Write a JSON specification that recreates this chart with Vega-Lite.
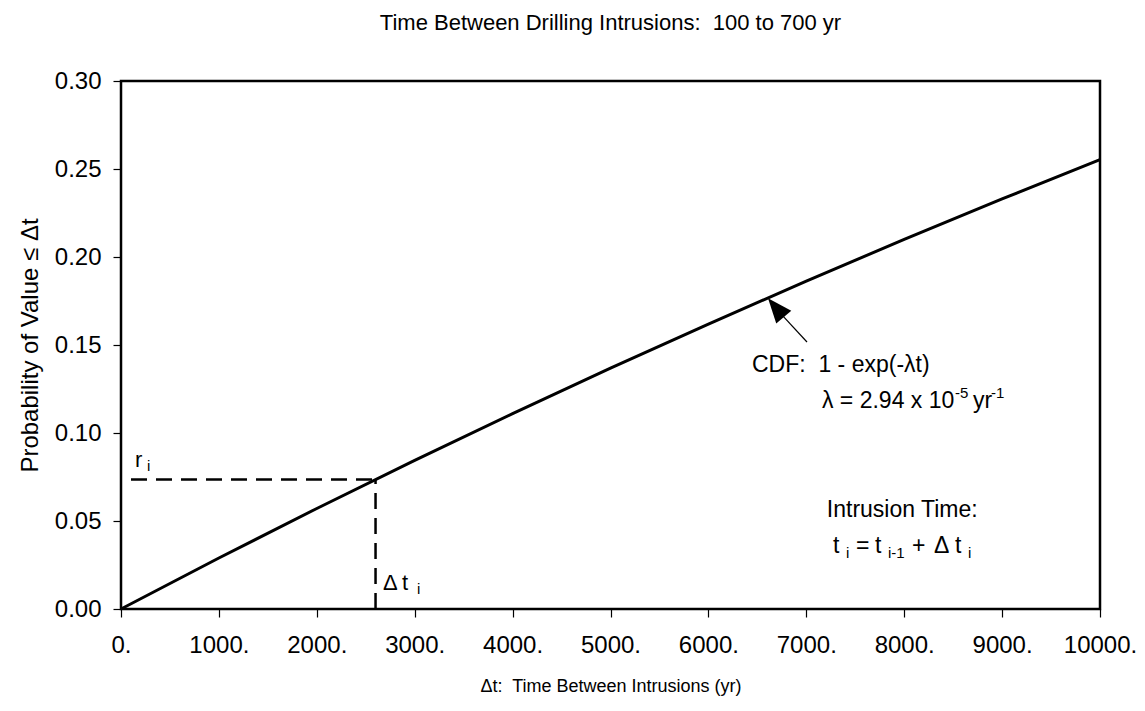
{
  "$schema": "https://vega.github.io/schema/vega-lite/v6.json",
  "width": 979,
  "height": 528,
  "autosize": {"type": "none"},
  "padding": {"left": 121, "top": 81, "right": 45, "bottom": 102},
  "background": "white",
  "config": {
    "font": "Liberation Sans",
    "view": {"stroke": "black", "strokeWidth": 2.5},
    "text": {"font": "Liberation Sans", "color": "black", "fontSize": 23, "align": "left", "baseline": "alphabetic"}
  },
  "title": {
    "text": "Time Between Drilling Intrusions:\u00a0 100 to 700 yr",
    "font": "Liberation Sans",
    "fontSize": 22,
    "fontWeight": "normal",
    "color": "black",
    "anchor": "middle",
    "offset": 34
  },
  "layer": [
    {
      "data": {"values": [
        {"t": 0, "p": 0},
        {"t": 1000, "p": 0.0290},
        {"t": 2000, "p": 0.0571},
        {"t": 3000, "p": 0.0845},
        {"t": 4000, "p": 0.1110},
        {"t": 5000, "p": 0.1368},
        {"t": 6000, "p": 0.1619},
        {"t": 7000, "p": 0.1863},
        {"t": 8000, "p": 0.2100},
        {"t": 9000, "p": 0.2330},
        {"t": 10000, "p": 0.2553}
      ]},
      "mark": {"type": "line", "color": "black", "strokeWidth": 3},
      "encoding": {
        "x": {
          "field": "t", "type": "quantitative",
          "scale": {"domain": [0, 10000], "nice": false, "zero": false},
          "axis": {
            "title": "Δt:\u00a0 Time Between Intrusions (yr)",
            "values": [0, 1000, 2000, 3000, 4000, 5000, 6000, 7000, 8000, 9000, 10000],
            "labelExpr": "datum.value + '.'",
            "domain": false, "grid": false,
            "ticks": true, "tickSize": 8, "tickColor": "black", "tickWidth": 1.2,
            "labelFont": "Liberation Sans", "labelFontSize": 24, "labelColor": "black",
            "labelPadding": 16, "labelFlush": false, "labelOverlap": false,
            "titleFont": "Liberation Sans", "titleFontSize": 18, "titleFontWeight": "normal", "titleColor": "black",
            "titlePadding": 20
          }
        },
        "y": {
          "field": "p", "type": "quantitative",
          "scale": {"domain": [0, 0.3], "nice": false, "zero": false},
          "axis": {
            "title": "Probability of Value ≤ Δt",
            "values": [0, 0.05, 0.1, 0.15, 0.2, 0.25, 0.3],
            "format": ".2f",
            "domain": false, "grid": false,
            "ticks": true, "tickSize": 8, "tickColor": "black", "tickWidth": 1.2,
            "labelFont": "Liberation Sans", "labelFontSize": 24, "labelColor": "black",
            "labelPadding": 12, "labelFlush": false, "labelOverlap": false,
            "titleFont": "Liberation Sans", "titleFontSize": 24, "titleFontWeight": "normal", "titleColor": "black",
            "titlePadding": 12
          }
        }
      }
    },
    {
      "data": {"values": [{}]},
      "mark": {"type": "rule", "color": "black", "strokeWidth": 2.5, "strokeDash": [16, 9], "strokeDashOffset": -10},
      "encoding": {
        "x": {"datum": 0, "type": "quantitative"},
        "x2": {"datum": 2600},
        "y": {"datum": 0.0736, "type": "quantitative"}
      }
    },
    {
      "data": {"values": [{}]},
      "mark": {"type": "rule", "color": "black", "strokeWidth": 2.5, "strokeDash": [16, 9]},
      "encoding": {
        "x": {"datum": 2600, "type": "quantitative"},
        "y": {"datum": 0, "type": "quantitative"},
        "y2": {"datum": 0.0736}
      }
    },
    {
      "data": {"values": [{}]},
      "mark": {"type": "rule", "color": "black", "strokeWidth": 1.2},
      "encoding": {
        "x": {"datum": 7007, "type": "quantitative"},
        "y": {"datum": 0.1517, "type": "quantitative"},
        "x2": {"datum": 6760},
        "y2": {"datum": 0.1665}
      }
    },
    {
      "data": {"values": [{}]},
      "mark": {"type": "point", "shape": "M0,0L0.8,2L-0.8,2Z", "size": 600, "angle": 320, "filled": true, "color": "black", "opacity": 1, "strokeWidth": 0},
      "encoding": {
        "x": {"datum": 6609, "type": "quantitative"},
        "y": {"datum": 0.1765, "type": "quantitative"}
      }
    },
    {
      "data": {"values": [{}]},
      "mark": {"type": "text", "text": "CDF:\u00a0 1 - exp(-λt)"},
      "encoding": {"x": {"datum": 6445, "type": "quantitative"}, "y": {"datum": 0.1347, "type": "quantitative"}}
    },
    {
      "data": {"values": [{}]},
      "mark": {"type": "text", "text": "λ = 2.94 x 10"},
      "encoding": {"x": {"datum": 7160, "type": "quantitative"}, "y": {"datum": 0.1142, "type": "quantitative"}}
    },
    {
      "data": {"values": [{}]},
      "mark": {"type": "text", "text": "-5", "fontSize": 15, "dx": 133, "dy": -10},
      "encoding": {"x": {"datum": 7160, "type": "quantitative"}, "y": {"datum": 0.1142, "type": "quantitative"}}
    },
    {
      "data": {"values": [{}]},
      "mark": {"type": "text", "text": "yr", "dx": 151},
      "encoding": {"x": {"datum": 7160, "type": "quantitative"}, "y": {"datum": 0.1142, "type": "quantitative"}}
    },
    {
      "data": {"values": [{}]},
      "mark": {"type": "text", "text": "-1", "fontSize": 15, "dx": 169, "dy": -10},
      "encoding": {"x": {"datum": 7160, "type": "quantitative"}, "y": {"datum": 0.1142, "type": "quantitative"}}
    },
    {
      "data": {"values": [{}]},
      "mark": {"type": "text", "text": "Intrusion Time:", "align": "center"},
      "encoding": {"x": {"datum": 7980, "type": "quantitative"}, "y": {"datum": 0.0523, "type": "quantitative"}}
    },
    {
      "data": {"values": [{}]},
      "mark": {"type": "text", "text": "t"},
      "encoding": {"x": {"datum": 7273, "type": "quantitative"}, "y": {"datum": 0.0318, "type": "quantitative"}}
    },
    {
      "data": {"values": [{}]},
      "mark": {"type": "text", "text": "i", "fontSize": 15, "dx": 13, "dy": 5},
      "encoding": {"x": {"datum": 7273, "type": "quantitative"}, "y": {"datum": 0.0318, "type": "quantitative"}}
    },
    {
      "data": {"values": [{}]},
      "mark": {"type": "text", "text": "=", "dx": 23},
      "encoding": {"x": {"datum": 7273, "type": "quantitative"}, "y": {"datum": 0.0318, "type": "quantitative"}}
    },
    {
      "data": {"values": [{}]},
      "mark": {"type": "text", "text": "t", "dx": 42},
      "encoding": {"x": {"datum": 7273, "type": "quantitative"}, "y": {"datum": 0.0318, "type": "quantitative"}}
    },
    {
      "data": {"values": [{}]},
      "mark": {"type": "text", "text": "i-1", "fontSize": 15, "dx": 55, "dy": 5},
      "encoding": {"x": {"datum": 7273, "type": "quantitative"}, "y": {"datum": 0.0318, "type": "quantitative"}}
    },
    {
      "data": {"values": [{}]},
      "mark": {"type": "text", "text": "+", "dx": 79},
      "encoding": {"x": {"datum": 7273, "type": "quantitative"}, "y": {"datum": 0.0318, "type": "quantitative"}}
    },
    {
      "data": {"values": [{}]},
      "mark": {"type": "text", "text": "Δ", "dx": 101},
      "encoding": {"x": {"datum": 7273, "type": "quantitative"}, "y": {"datum": 0.0318, "type": "quantitative"}}
    },
    {
      "data": {"values": [{}]},
      "mark": {"type": "text", "text": "t", "dx": 122},
      "encoding": {"x": {"datum": 7273, "type": "quantitative"}, "y": {"datum": 0.0318, "type": "quantitative"}}
    },
    {
      "data": {"values": [{}]},
      "mark": {"type": "text", "text": "i", "fontSize": 15, "dx": 135, "dy": 5},
      "encoding": {"x": {"datum": 7273, "type": "quantitative"}, "y": {"datum": 0.0318, "type": "quantitative"}}
    },
    {
      "data": {"values": [{}]},
      "mark": {"type": "text", "text": "r", "fontSize": 22},
      "encoding": {"x": {"datum": 143, "type": "quantitative"}, "y": {"datum": 0.0807, "type": "quantitative"}}
    },
    {
      "data": {"values": [{}]},
      "mark": {"type": "text", "text": "i", "fontSize": 15, "dx": 12, "dy": 4},
      "encoding": {"x": {"datum": 143, "type": "quantitative"}, "y": {"datum": 0.0807, "type": "quantitative"}}
    },
    {
      "data": {"values": [{}]},
      "mark": {"type": "text", "text": "Δ", "fontSize": 22},
      "encoding": {"x": {"datum": 2676, "type": "quantitative"}, "y": {"datum": 0.0108, "type": "quantitative"}}
    },
    {
      "data": {"values": [{}]},
      "mark": {"type": "text", "text": "t", "fontSize": 22, "dx": 19},
      "encoding": {"x": {"datum": 2676, "type": "quantitative"}, "y": {"datum": 0.0108, "type": "quantitative"}}
    },
    {
      "data": {"values": [{}]},
      "mark": {"type": "text", "text": "i", "fontSize": 15, "dx": 34, "dy": 4},
      "encoding": {"x": {"datum": 2676, "type": "quantitative"}, "y": {"datum": 0.0108, "type": "quantitative"}}
    }
  ]
}
